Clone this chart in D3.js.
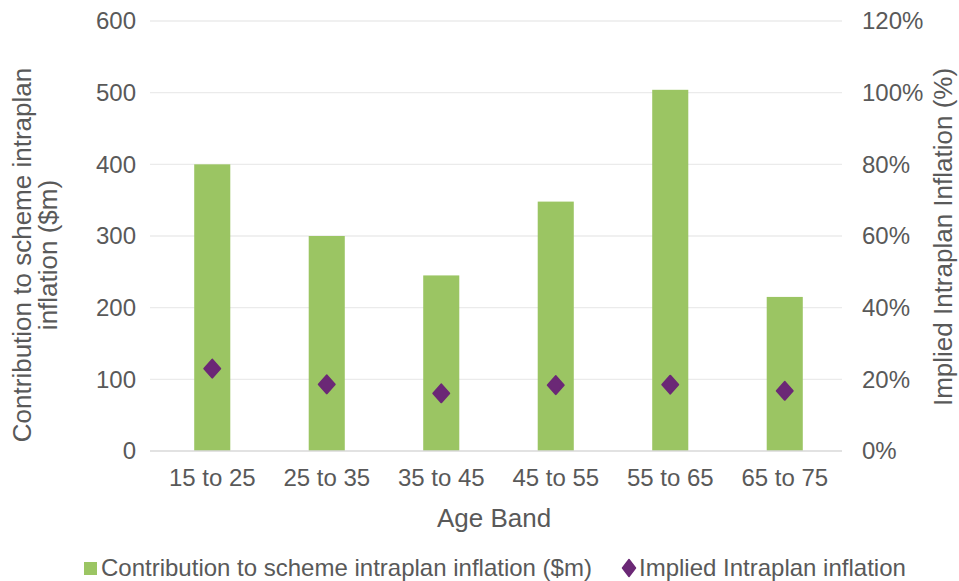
<!DOCTYPE html>
<html>
<head>
<meta charset="utf-8">
<script src="https://cdn.jsdelivr.net/npm/d3@7"></script>
<style>
  html, body { margin: 0; padding: 0; background: #fff; }
  svg { display: block; font-family: "Liberation Sans", Arial, sans-serif; }
</style>
</head>
<body>
<svg id="chart" width="959" height="581"></svg>
<script>
// Age bands and the two series
const categories = ["15 to 25", "25 to 35", "35 to 45", "45 to 55", "55 to 65", "65 to 75"];
const contribution = [400, 300, 245, 348, 504, 215];          // $m
const impliedInflation = [0.23, 0.186, 0.161, 0.184, 0.185, 0.168]; // share
const leftTicks = [0, 100, 200, 300, 400, 500, 600];
const rightTicks = [0, 0.2, 0.4, 0.6, 0.8, 1.0, 1.2];

const barColor = "#9bc563";
const markerColor = "#6b2876";
const textColor = "#595959";
const fontFamily = "Liberation Sans, Arial, sans-serif";

const svg = d3.select("#chart");
const plot = { left: 155, right: 842, top: 21, bottom: 451 };

const x = d3.scaleBand().domain(categories).range([plot.left, plot.right]).paddingInner(0.685).paddingOuter(0.3425);
const yL = d3.scaleLinear().domain([0, 600]).range([plot.bottom, plot.top]);
const yR = d3.scaleLinear().domain([0, 1.2]).range([plot.bottom, plot.top]);

// horizontal gridlines
svg.append("g")
  .selectAll("line")
  .data(leftTicks.filter(d => d > 0))
  .join("line")
  .attr("x1", plot.left - 5).attr("x2", plot.right)
  .attr("y1", d => yL(d)).attr("y2", d => yL(d))
  .attr("stroke", "#ebebeb").attr("stroke-width", 1.3);

// left axis
const axL = svg.append("g")
  .attr("transform", `translate(${plot.left - 19},0)`)
  .call(d3.axisLeft(yL).tickValues(leftTicks).tickSize(0).tickPadding(0));
axL.select(".domain").remove();
axL.selectAll("text").attr("fill", textColor).style("font-size", "24px").style("font-family", fontFamily);

// right axis
const axR = svg.append("g")
  .attr("transform", `translate(${plot.right + 20},0)`)
  .call(d3.axisRight(yR).tickValues(rightTicks).tickFormat(d3.format(".0%")).tickSize(0).tickPadding(0));
axR.select(".domain").remove();
axR.selectAll("text").attr("fill", textColor).style("font-size", "24px").style("font-family", fontFamily);

// bars
svg.append("g")
  .selectAll("rect")
  .data(categories)
  .join("rect")
  .attr("x", d => x(d))
  .attr("width", x.bandwidth())
  .attr("y", (d, i) => yL(contribution[i]))
  .attr("height", (d, i) => yL(0) - yL(contribution[i]))
  .attr("fill", barColor);

// zero baseline
svg.append("line")
  .attr("x1", plot.left - 5).attr("x2", plot.right)
  .attr("y1", yL(0)).attr("y2", yL(0))
  .attr("stroke", "#d9d9d9").attr("stroke-width", 1.5);

// bottom axis labels
const axB = svg.append("g")
  .attr("transform", `translate(0,${plot.bottom + 12})`)
  .call(d3.axisBottom(x).tickSize(0).tickPadding(6));
axB.select(".domain").remove();
axB.selectAll("text").attr("fill", textColor).style("font-size", "24px").style("font-family", fontFamily);

// diamond markers
const diamond = (w, h) => `M0,${-h / 2}L${w / 2},0L0,${h / 2}L${-w / 2},0Z`;
svg.append("g")
  .selectAll("path")
  .data(categories)
  .join("path")
  .attr("transform", (d, i) => `translate(${x(d) + x.bandwidth() / 2},${yR(impliedInflation[i])})`)
  .attr("d", diamond(16, 18))
  .attr("fill", markerColor)
  .attr("stroke", markerColor)
  .attr("stroke-width", 2)
  .attr("stroke-linejoin", "round");

// axis titles
svg.append("text")
  .attr("x", 494).attr("y", 527)
  .attr("text-anchor", "middle").attr("fill", textColor)
  .style("font-size", "26px").text("Age Band");

const leftTitle = svg.append("text")
  .attr("transform", "translate(0,255) rotate(-90)")
  .attr("text-anchor", "middle").attr("fill", textColor)
  .style("font-size", "26px");
leftTitle.append("tspan").attr("x", 0).attr("y", 31).text("Contribution to scheme intraplan");
leftTitle.append("tspan").attr("x", 0).attr("y", 57).text("inflation ($m)");

svg.append("text")
  .attr("transform", "translate(952,237) rotate(-90)")
  .attr("text-anchor", "middle").attr("fill", textColor)
  .style("font-size", "26px").text("Implied Intraplan Inflation (%)");

// legend
const legend = svg.append("g").attr("transform", "translate(0,568)");
legend.append("rect").attr("x", 84).attr("y", -6).attr("width", 13).attr("height", 13).attr("fill", barColor);
legend.append("text").attr("x", 101).attr("y", 8).attr("fill", textColor)
  .style("font-size", "24px").text("Contribution to scheme intraplan inflation ($m)");
legend.append("path").attr("transform", "translate(629,0)").attr("d", diamond(13, 17))
  .attr("fill", markerColor).attr("stroke", markerColor).attr("stroke-width", 1.5).attr("stroke-linejoin", "round");
legend.append("text").attr("x", 639).attr("y", 8).attr("fill", textColor)
  .style("font-size", "24px").text("Implied Intraplan inflation");
</script>
</body>
</html>
